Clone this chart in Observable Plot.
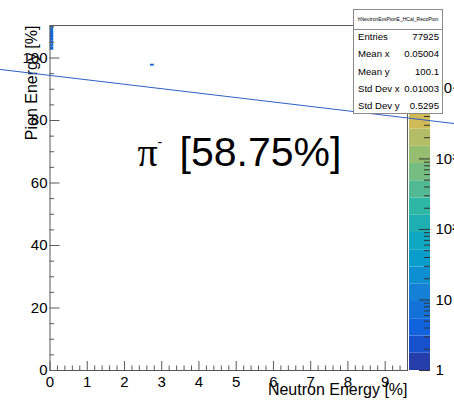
<!DOCTYPE html>
<html><head><meta charset="utf-8">
<script src="https://cdn.jsdelivr.net/npm/d3@7"></script>
<script src="https://cdn.jsdelivr.net/npm/@observablehq/plot@0.6"></script>
<style>
body{margin:0;background:#fff;}
#wrap{position:relative;width:454px;height:405px;overflow:hidden;font-family:"Liberation Sans",Arial,Helvetica,sans-serif;}
#wrap svg{position:absolute;left:0;top:0;background:transparent !important;max-width:none !important;}
#stats{position:absolute;left:353px;top:9px;width:88px;height:103px;border:1px solid #8a8a8a;background:#fff;font-size:9.6px;color:#000;}
#stats .title{height:19px;border-bottom:1px solid #8a8a8a;font-size:5px;line-height:19px;text-align:center;white-space:nowrap;overflow:hidden;}
#stats .row{position:absolute;left:4px;right:3px;height:12px;line-height:12px;}
#stats .row .v{position:absolute;right:0;top:0;}
</style></head><body>
<div id="wrap"></div>
<script>
// ---- data ----
const histName = "hNeutronEvsPionE_HCal_RecoPion";
const statLabels = ["Entries", "Mean x", "Mean y", "Std Dev x", "Std Dev y"];
const statValues = ["77925", "0.05004", "100.1", "0.01003", "0.5295"];

// filled bins of the 2D histogram (x in Neutron Energy %, y in Pion Energy %)
const cellX1 = [0, 0, 0, 0, 0, 0, 0, 0, 2.7];
const cellX2 = [0.1, 0.1, 0.1, 0.1, 0.1, 0.1, 0.1, 0.1, 2.8];
const cellY1 = [102.5, 103.5, 104.5, 105.5, 106.5, 107.5, 108.5, 109.5, 97.4];
const cellY2 = [103.5, 104.5, 105.5, 106.5, 107.5, 108.5, 109.5, 110.5, 98.0];
const cellCount = [5, 6, 5, 5, 4, 5, 6, 6, 5];

// straight (fit) line, drawn across the whole pad
const fitX = [-1.33, 10.88];
const fitY = [96.3, 79.0];

// annotation
const annX = [2.35];
const annY = [65.3];
const annPi = "π";
const annSup = "-";
const annText = "[58.75%]";

// axes
const xDomain = [0, 9.6];
const yDomain = [0, 110.4];
const xTicks = [0, 1, 2, 3, 4, 5, 6, 7, 8, 9];
const xTickLabels = ["0", "1", "2", "3", "4", "5", "6", "7", "8", "9"];
const yTicks = [0, 20, 40, 60, 80, 100];
const yTickLabels = ["0", "20", "40", "60", "80", "100"];
const xTitle = "Neutron Energy [%]";
const yTitle = "Pion Energy [%]";

// colour axis (log z)
const zDomain = [1, 78000];
const zTicks = [1, 10, 100, 1000, 10000];
const zTickLabels = ["1", "10", "10²", "10³", "10⁴"];
const nBands = 20;

// ROOT kBird palette stops
const birdStops = [0, 0.125, 0.25, 0.375, 0.5, 0.625, 0.75, 0.875, 1];
const birdR = [0.2082, 0.0592, 0.0780, 0.0232, 0.1802, 0.5301, 0.8186, 0.9956, 0.9764];
const birdG = [0.1664, 0.3599, 0.5041, 0.6419, 0.7178, 0.7492, 0.7328, 0.7862, 0.9832];
const birdB = [0.5293, 0.8684, 0.8385, 0.7914, 0.6425, 0.4662, 0.3499, 0.1968, 0.0539];

// ---- build ----
const FONT = '"Liberation Sans", Arial, Helvetica, sans-serif';
const sR = d3.scaleLinear().domain(birdStops).range(birdR);
const sG = d3.scaleLinear().domain(birdStops).range(birdG);
const sB = d3.scaleLinear().domain(birdStops).range(birdB);
const bandColors = d3.range(nBands).map(i => {
  const t = (i + 1) / nBands;
  return d3.rgb(sR(t) * 255, sG(t) * 255, sB(t) * 255).formatHex();
});
const L0 = Math.log10(zDomain[0]), L1 = Math.log10(zDomain[1]);
const bandEdges = d3.range(nBands + 1).map(k => Math.pow(10, L0 + (L1 - L0) * k / nBands));
const bands = d3.range(nBands).map(i => ({lo: bandEdges[i], hi: bandEdges[i + 1], color: bandColors[i]}));
const thresholds = bandEdges.slice(1, nBands);

const cells = cellCount.map((c, i) => ({x1: cellX1[i], x2: cellX2[i], y1: cellY1[i], y2: cellY2[i], count: c}));
const fit = fitX.map((x, i) => ({x, y: fitY[i]}));
const ann = annX.map((x, i) => ({x, y: annY[i]}));

const xMinor = d3.range(0, 9.61, 0.2).filter(v => Math.abs(v - Math.round(v)) > 1e-6);
const yMinor = d3.range(0, 110.1, 5).filter(v => v % 20 !== 0);
const zMinor = [];
for (let e = 0; e < 5; e++) for (let m = 2; m <= 9; m++) { const v = m * Math.pow(10, e); if (v <= zDomain[1]) zMinor.push(v); }

const W = 454, H = 405;
const mL = 49.5, mR = 47, mT = 25, mB = 35;
const frameW = W - mL - mR, frameH = H - mT - mB;
const axisGray = "#5a5a5a";

// colour bar (drawn first, underneath)
const bar = Plot.plot({
  width: W, height: H,
  marginLeft: 409, marginRight: 24, marginTop: mT, marginBottom: mB,
  style: {background: "transparent", fontFamily: FONT, fontSize: "15px", overflow: "visible"},
  x: {axis: null, domain: [0, 1]},
  y: {type: "log", domain: zDomain, axis: null},
  marks: [
    Plot.rect(bands, {y1: "lo", y2: "hi", fill: "color"}),
    Plot.tickY(zMinor, {y: d => d, insetLeft: 15, stroke: "#333", strokeWidth: 1}),
    Plot.tickY(zTicks, {y: d => d, insetLeft: 10, stroke: "#333", strokeWidth: 1}),
    Plot.text(zTicks, {y: d => d, text: (d, i) => zTickLabels[i], frameAnchor: "right", dx: 5, textAnchor: "start", fontSize: 15, fill: "#000"})
  ]
});

const main = Plot.plot({
  width: W, height: H,
  marginLeft: mL, marginRight: mR, marginTop: mT, marginBottom: mB,
  style: {background: "transparent", fontFamily: FONT, fontSize: "15px", color: "#000", overflow: "visible"},
  x: {domain: xDomain},
  y: {domain: yDomain},
  color: {type: "threshold", domain: thresholds, range: bandColors},
  marks: [
    Plot.rect(cells, {x1: "x1", x2: "x2", y1: "y1", y2: "y2", fill: "count", clip: true}),
    Plot.frame({stroke: axisGray}),
    Plot.tickX(xMinor, {x: d => d, insetTop: frameH - 4.5, stroke: axisGray}),
    Plot.tickX(xTicks, {x: d => d, insetTop: frameH - 9, stroke: axisGray}),
    Plot.tickY(yMinor, {y: d => d, insetRight: frameW - 4.5, stroke: axisGray}),
    Plot.tickY(yTicks, {y: d => d, insetRight: frameW - 10, stroke: axisGray}),
    Plot.axisX(xTicks, {tickSize: 0, tickPadding: 6, label: null, fontSize: 15, tickFormat: (d, i) => xTickLabels[i]}),
    Plot.axisY(yTicks, {tickSize: 0, tickPadding: 2.5, label: null, fontSize: 15, tickFormat: (d, i) => yTickLabels[i]}),
    Plot.text([xTitle], {text: d => d, frameAnchor: "bottom-right", dy: 24, textAnchor: "end", fontSize: 16, fill: "#000"}),
    Plot.text([yTitle], {text: d => d, frameAnchor: "top-left", dx: -24, rotate: -90, textAnchor: "end", fontSize: 16, fill: "#000"}),
    Plot.line(fit, {x: "x", y: "y", stroke: "#2f60c6", strokeWidth: 1.1, clip: false}),
    Plot.text(ann, {x: "x", y: "y", text: () => annPi, textAnchor: "start", lineAnchor: "bottom", fontSize: 40, fontFamily: '"Liberation Serif", "DejaVu Serif", serif', fill: "#000"}),
    Plot.text(ann, {x: "x", y: "y", text: () => annSup, textAnchor: "start", lineAnchor: "bottom", fontSize: 14, dx: 20, dy: -19, fill: "#000"}),
    Plot.text(ann, {x: "x", y: "y", text: () => annText, textAnchor: "start", lineAnchor: "bottom", fontSize: 41, dx: 42, fill: "#000"})
  ]
});

const wrap = document.getElementById("wrap");
wrap.appendChild(bar);
wrap.appendChild(main);

// stats box
const stats = document.createElement("div");
stats.id = "stats";
const t = document.createElement("div");
t.className = "title";
t.textContent = histName;
stats.appendChild(t);
statLabels.forEach((lab, i) => {
  const r = document.createElement("div");
  r.className = "row";
  r.style.top = (21 + i * 17.25) + "px";
  const a = document.createElement("span"); a.textContent = lab;
  const b = document.createElement("span"); b.className = "v"; b.textContent = statValues[i];
  r.appendChild(a); r.appendChild(b);
  stats.appendChild(r);
});
wrap.appendChild(stats);
</script>
</body></html>
